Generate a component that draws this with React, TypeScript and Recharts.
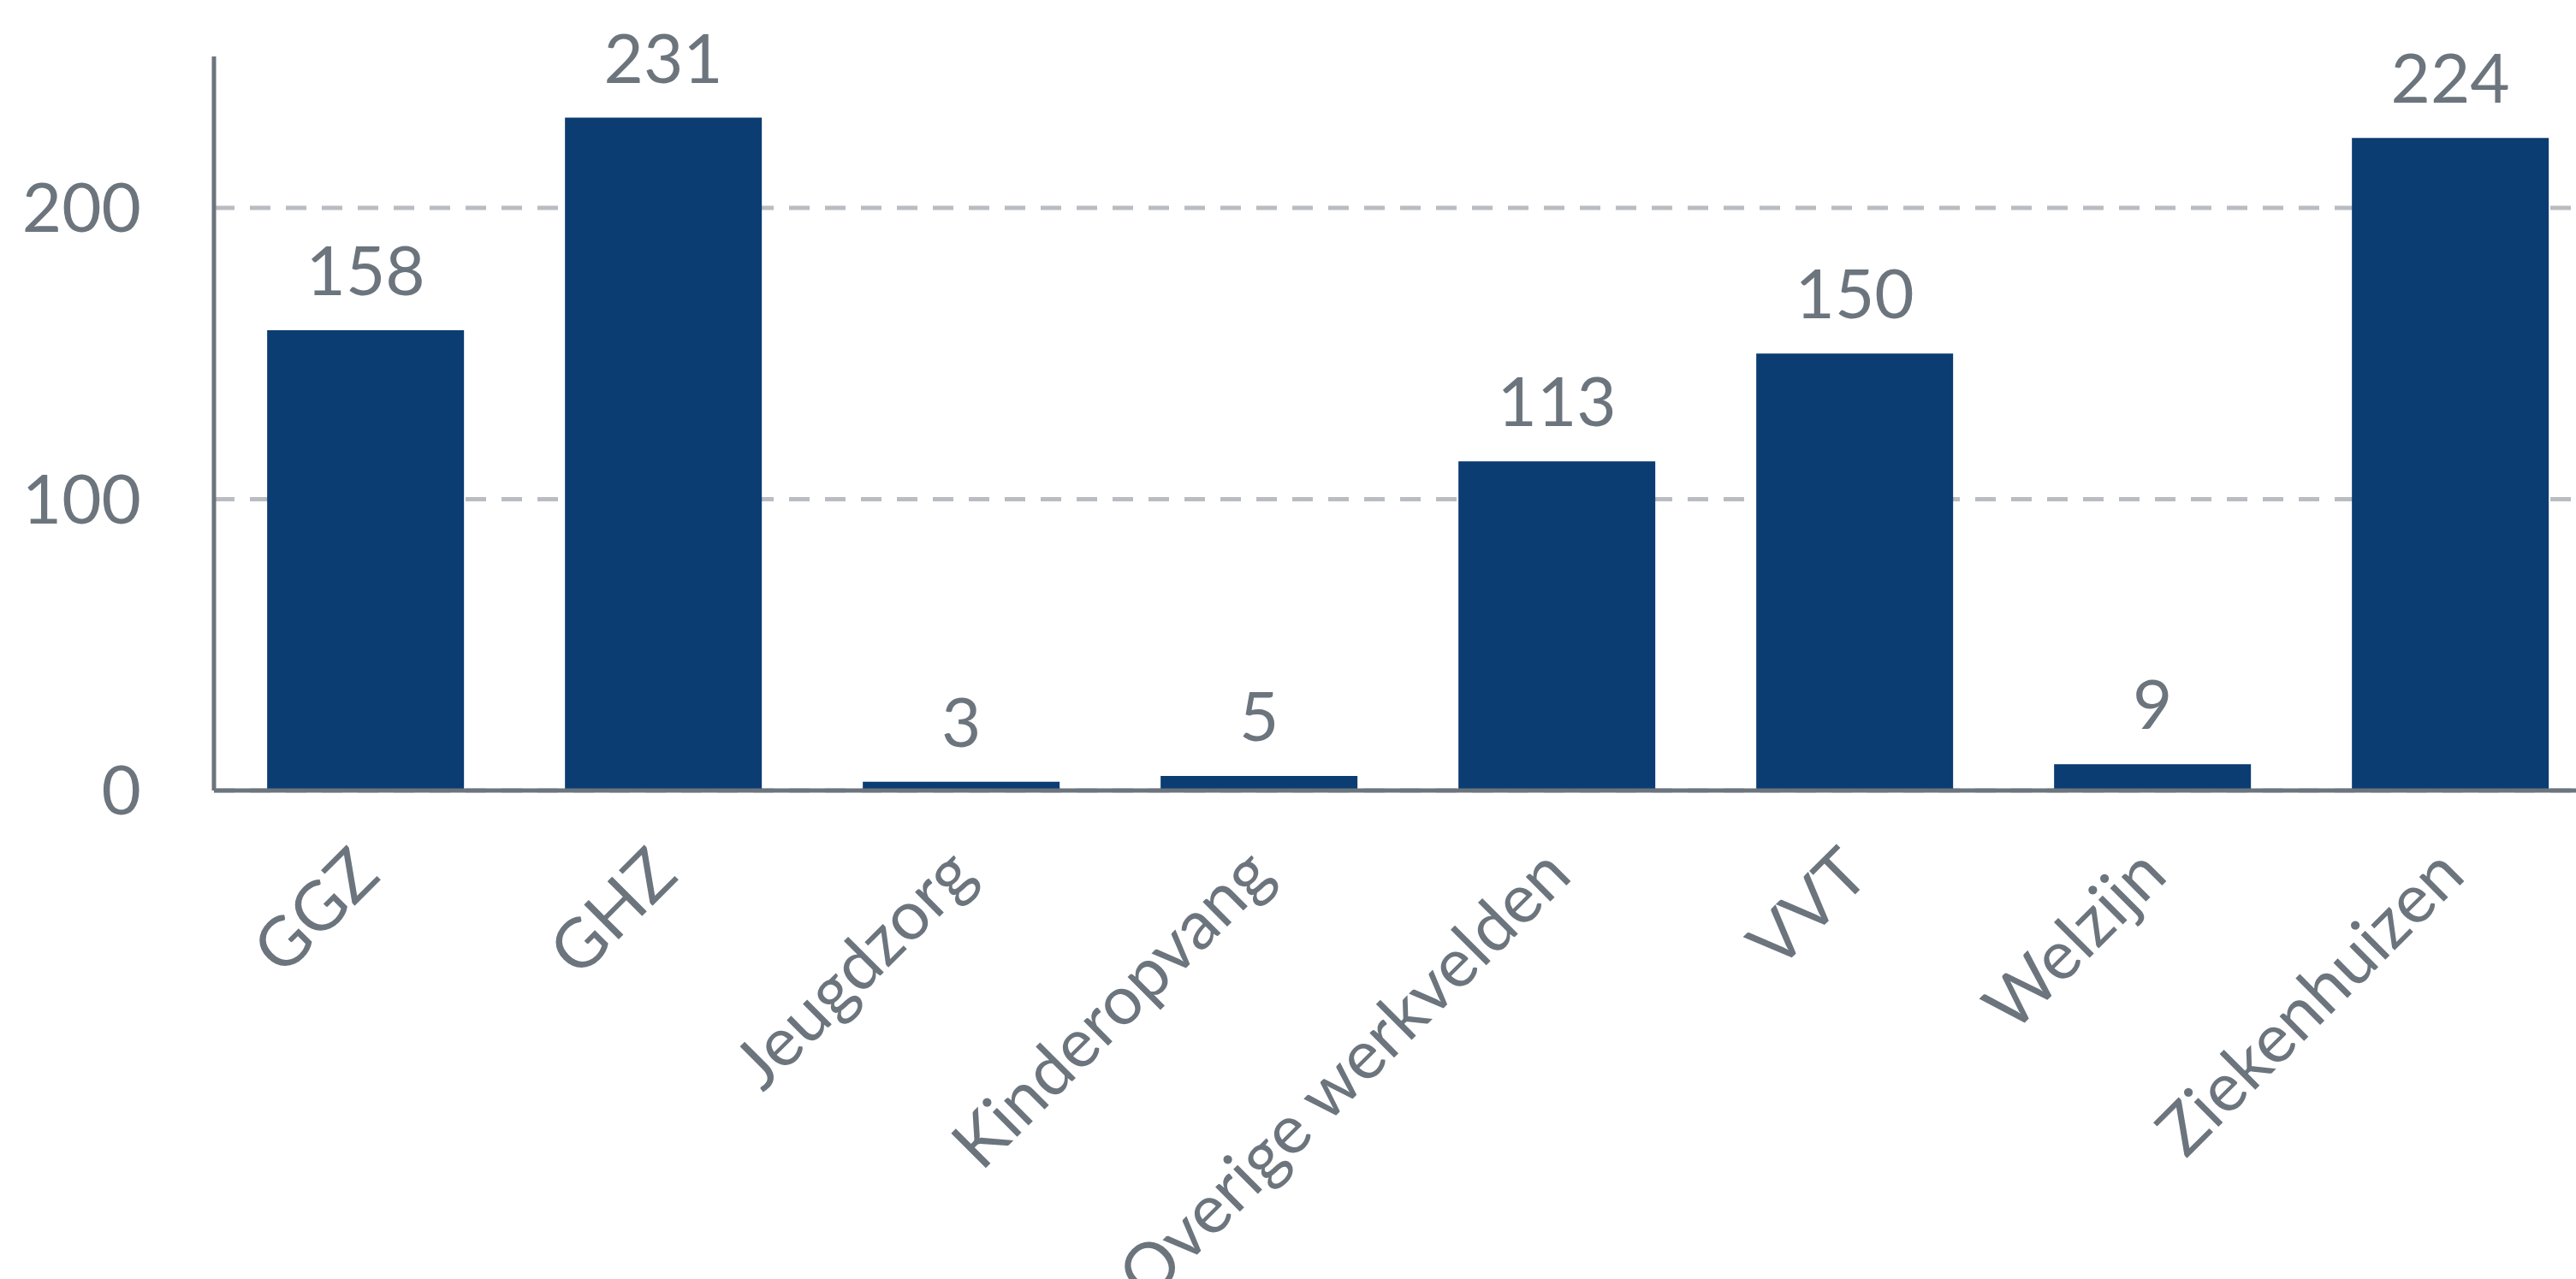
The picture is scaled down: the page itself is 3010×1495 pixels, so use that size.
import { BarChart, Bar, XAxis, YAxis, CartesianGrid, LabelList, Text } from "recharts";

const categories = [
  "GGZ",
  "GHZ",
  "Jeugdzorg",
  "Kinderopvang",
  "Overige werkvelden",
  "VVT",
  "Welzijn",
  "Ziekenhuizen",
];
const counts = [158, 231, 3, 5, 113, 150, 9, 224];
const yTicks = [0, 100, 200];

const data = categories.map((name, i) => ({ name, count: counts[i] }));

const GREY = "#6c757d";
const NAVY = "#0b3c72";
const FONT = "Lato, 'Open Sans', sans-serif";

function AngledTick(props: any) {
  const { x, y, payload } = props;
  return (
    <Text
      x={x}
      y={y}
      angle={-45}
      textAnchor="end"
      verticalAnchor="middle"
      fill={GREY}
      fontSize={80}
      fontFamily={FONT}
    >
      {payload.value}
    </Text>
  );
}

export default function App() {
  return (
    <div
      style={{
        position: "absolute",
        left: 0,
        top: 0,
        width: 3010,
        height: 1495,
        overflow: "hidden",
        background: "#fff",
      }}
    >
      <BarChart
        width={3037}
        height={1495}
        data={data}
        margin={{ top: 66, right: 0, left: 0, bottom: 471 }}
        barCategoryGap="17%"
      >
        <CartesianGrid
          vertical={false}
          horizontalValues={yTicks}
          stroke="#b9bcc1"
          strokeWidth={5}
          strokeDasharray="24 18"
        />
        <XAxis
          dataKey="name"
          height={100}
          interval={0}
          padding={{ left: 3, right: 0 }}
          tickLine={false}
          tickSize={0}
          tickMargin={82}
          axisLine={{ stroke: GREY, strokeWidth: 5 }}
          tick={<AngledTick />}
        />
        <YAxis
          width={250}
          domain={[0, 252]}
          ticks={yTicks}
          tickLine={false}
          tickSize={0}
          tickMargin={85}
          axisLine={{ stroke: GREY, strokeWidth: 5 }}
          tick={{ fill: GREY, fontSize: 80, fontFamily: FONT }}
        />
        <Bar dataKey="count" fill={NAVY} isAnimationActive={false}>
          <LabelList
            dataKey="count"
            position="top"
            offset={41}
            fill={GREY}
            fontSize={80}
            fontFamily={FONT}
          />
        </Bar>
      </BarChart>
    </div>
  );
}
